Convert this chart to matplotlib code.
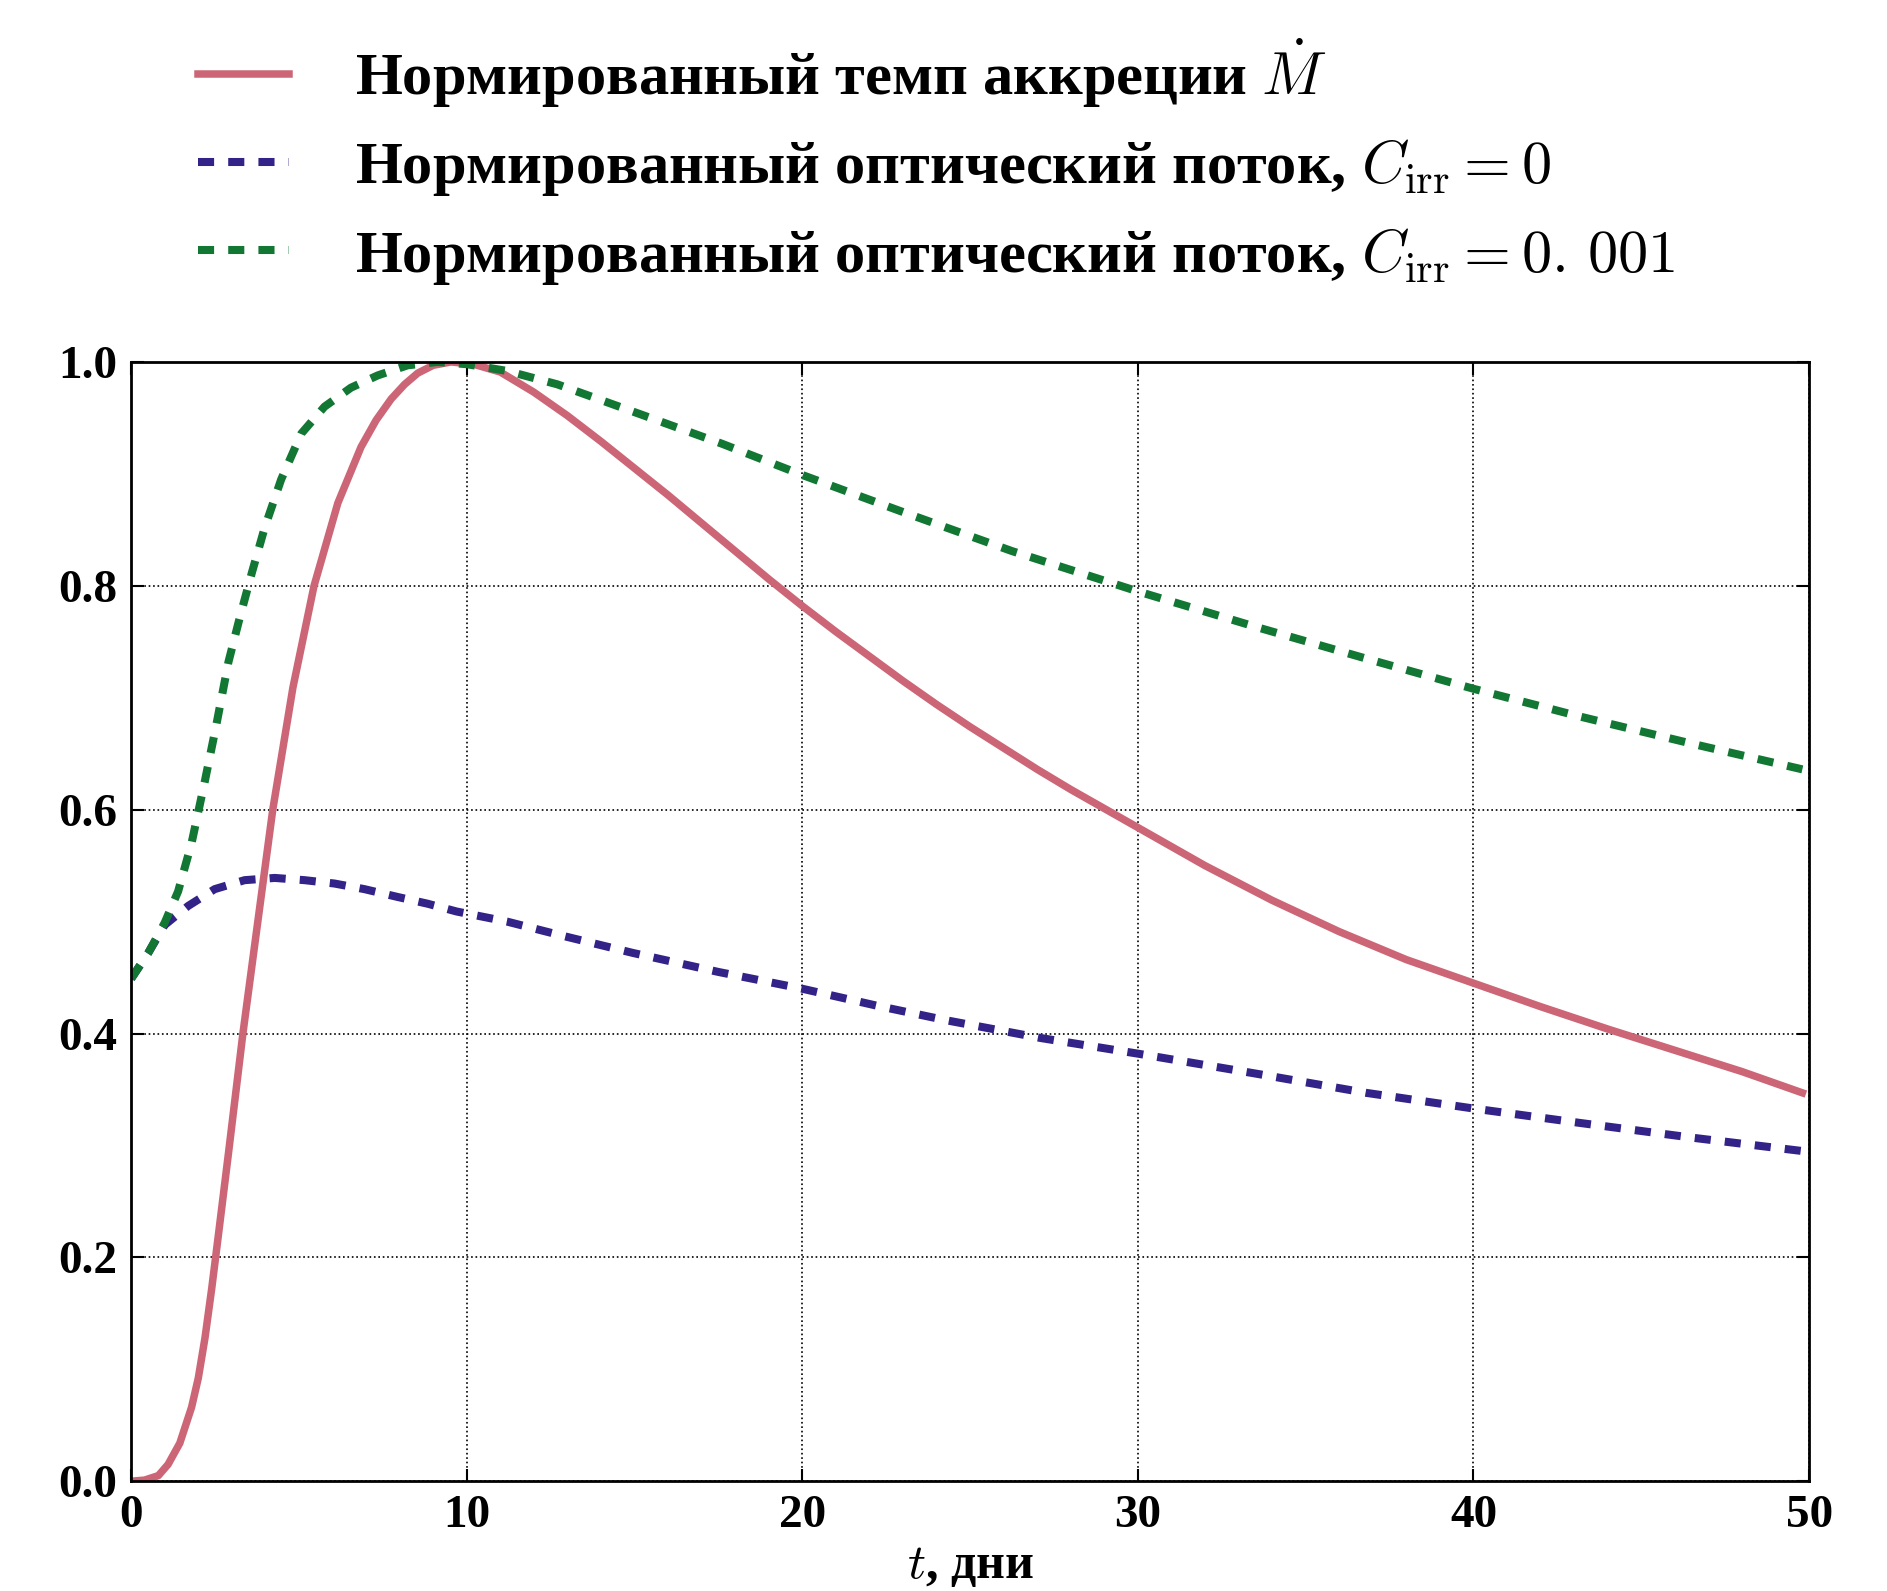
import matplotlib
matplotlib.use("Agg")
import matplotlib.pyplot as plt

# normalised accretion rate
t_mdot = [0.0, 0.4, 0.81, 1.1, 1.45, 1.8, 2.0, 2.2, 2.4, 2.6, 2.9, 3.33, 3.73, 4.22, 4.82,
          5.45, 6.16, 6.85, 7.3, 7.75, 8.15, 8.54, 9.0, 9.53, 10.2, 11.0, 12.0, 13.0, 14.0,
          15.0, 16.0, 17.0, 18.0, 19.0, 20.0, 21.0, 22.0, 23.0, 24.0, 25.0, 26.0, 27.0,
          28.0, 29.0, 30.0, 32.0, 34.0, 36.0, 38.0, 40.0, 42.0, 44.0, 46.0, 48.0, 49.8]
v_mdot = [0.0, 0.001, 0.005, 0.015, 0.034, 0.066, 0.092, 0.128, 0.172, 0.22, 0.293, 0.4,
          0.49, 0.6, 0.709, 0.8, 0.874, 0.924, 0.948, 0.967, 0.98, 0.99, 0.997, 1.0, 0.998,
          0.991, 0.973, 0.952, 0.929, 0.905, 0.881, 0.856, 0.831, 0.806, 0.782, 0.759,
          0.737, 0.715, 0.694, 0.674, 0.655, 0.636, 0.618, 0.601, 0.584, 0.55, 0.519,
          0.491, 0.466, 0.445, 0.424, 0.404, 0.385, 0.366, 0.347]

# optical flux, C_irr = 0
t_f0 = [0.0, 0.51, 1.0, 1.7, 2.49, 3.38, 4.28, 5.17, 6.06, 6.95, 7.94, 8.83, 9.7, 11.2,
        12.9, 14.95, 17.5, 20.0, 22.2, 24.26, 27.1, 30.0, 33.55, 36.8, 40.0, 43.2, 46.5, 49.8]
v_f0 = [0.449, 0.472, 0.497, 0.514, 0.529, 0.537, 0.539, 0.537, 0.534, 0.529, 0.522, 0.516,
        0.509, 0.5, 0.487, 0.472, 0.455, 0.44, 0.425, 0.412, 0.396, 0.382, 0.364, 0.347,
        0.333, 0.32, 0.307, 0.295]

# optical flux, C_irr = 0.001
t_f1 = [0.0, 0.51, 1.0, 1.4, 1.8, 2.2, 2.54, 2.9, 3.24, 3.6, 3.98, 4.47, 5.07, 5.76, 6.55,
        7.35, 8.24, 9.13, 10.0, 11.2, 12.7, 15.2, 17.6, 20.0, 22.9, 26.25, 30.0, 33.55,
        36.8, 40.0, 43.2, 46.5, 49.8]
v_f1 = [0.449, 0.472, 0.499, 0.527, 0.57, 0.626, 0.676, 0.732, 0.772, 0.812, 0.852, 0.895,
        0.936, 0.96, 0.977, 0.988, 0.997, 1.0, 0.998, 0.992, 0.98, 0.953, 0.927, 0.899,
        0.867, 0.831, 0.795, 0.763, 0.735, 0.708, 0.683, 0.659, 0.636]

labels = [
    r"Нормированный темп аккреции $\dot{M}$",
    r"Нормированный оптический поток, $C_{\rm irr} = 0$",
    r"Нормированный оптический поток, $C_{\rm irr} = 0.\,001$",
]

plt.rcParams["font.family"] = ["Liberation Serif", "DejaVu Serif"]
plt.rcParams["font.weight"] = "bold"
plt.rcParams["mathtext.fontset"] = "cm"

fig = plt.figure(figsize=(18.87, 15.91), dpi=100)
ax = fig.add_axes([0.0695, 0.069, 0.8892, 0.7035])

ax.plot(t_mdot, v_mdot, color="#CC6677", lw=5.4, label=labels[0])
ax.plot(t_f0, v_f0, color="#332288", lw=5.8, dashes=(2.0, 1.75), label=labels[1])
ax.plot(t_f1, v_f1, color="#117733", lw=5.8, dashes=(2.0, 1.75), label=labels[2])

ax.set_xlim(0, 50)
ax.set_ylim(0, 1.0)
ax.set_xticks([0, 10, 20, 30, 40, 50])
ax.set_yticks([0.0, 0.2, 0.4, 0.6, 0.8, 1.0])
ax.set_yticklabels(["0.0", "0.2", "0.4", "0.6", "0.8", "1.0"])
ax.grid(True, color="k", linestyle=":", linewidth=1.2)
ax.tick_params(direction="in", length=9, width=1.5, top=True, right=True,
               labelsize=34, pad=10)
for sp in ax.spines.values():
    sp.set_linewidth(2)
ax.set_xlabel(r"$t$, дни", fontsize=36, fontweight="bold", labelpad=4)

fig.legend(loc="upper left", bbox_to_anchor=(0.105, 0.977), frameon=False,
           fontsize=43.5, handlelength=1.5, handletextpad=1.1, labelspacing=0.45,
           borderpad=0, borderaxespad=0)

fig.savefig("out.png", dpi=100, facecolor="white")
